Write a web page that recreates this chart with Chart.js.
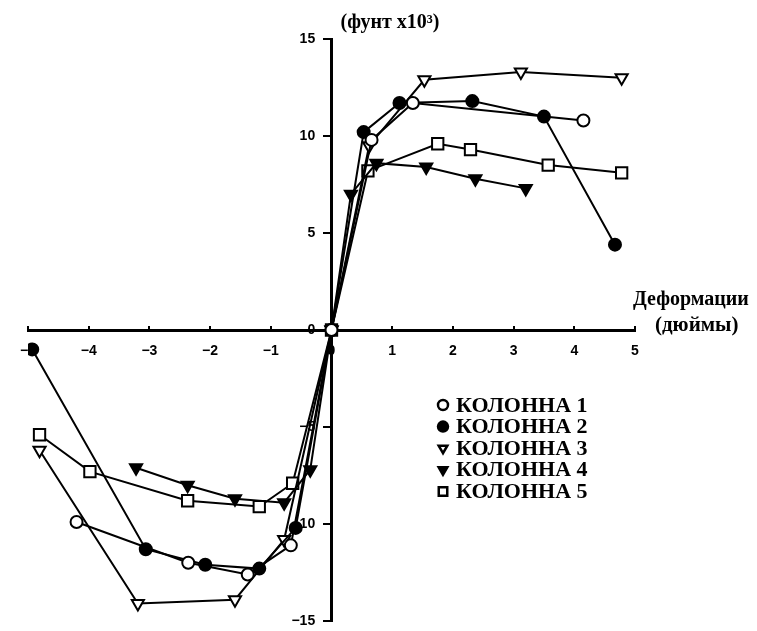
<!DOCTYPE html>
<html>
<head>
<meta charset="utf-8">
<script src="https://cdn.jsdelivr.net/npm/chart.js@4/dist/chart.umd.min.js"></script>
<style>
  html, body { margin: 0; padding: 0; background: #fff; }
  #wrap { width: 757px; height: 631px; }
</style>
</head>
<body>
<div id="wrap"><canvas id="chart" width="757" height="631"></canvas></div>
<script>
// deformation (inches) / load (lb x10^3)
const col1X = [-4.2, -2.36, -1.38, -0.67, 0, 0.66, 1.34, 4.15];
const col1Y = [-9.9, -12.0, -12.6, -11.1, 0, 9.8, 11.7, 10.8];

const col2X = [-4.93, -3.06, -2.08, -1.19, -0.59, 0, 0.53, 1.12, 2.32, 3.5, 4.67];
const col2Y = [-1.0, -11.3, -12.1, -12.3, -10.2, 0, 10.2, 11.7, 11.8, 11.0, 4.4];

const col3X = [-4.81, -3.19, -1.59, -0.78, 0, 0.62, 1.53, 3.12, 4.78];
const col3Y = [-6.2, -14.1, -13.9, -10.8, 0, 9.5, 12.9, 13.3, 13.0];

const col4X = [-3.22, -2.37, -1.59, -0.78, -0.35, 0, 0.32, 0.74, 1.56, 2.37, 3.2];
const col4Y = [-7.1, -8.0, -8.7, -8.9, -7.2, 0, 7.0, 8.6, 8.4, 7.8, 7.3];

const col5X = [-4.81, -3.98, -2.37, -1.19, -0.64, 0, 0.6, 1.75, 2.29, 3.57, 4.78];
const col5Y = [-5.4, -7.3, -8.8, -9.1, -7.9, 0, 8.2, 9.6, 9.3, 8.5, 8.1];

const seriesNames = ['КОЛОННА 1', 'КОЛОННА 2', 'КОЛОННА 3', 'КОЛОННА 4', 'КОЛОННА 5'];
const xTitle = ['Деформации', '(дюймы)'];
const yTitle = '(фунт x10³)';

function pts(xs, ys) {
    return xs.map((x, i) => ({ x: x, y: ys[i] }));
}

function ds(label, data, style, fill, radius, rotation) {
    return {
        label: label,
        data: data,
        showLine: true,
        borderColor: '#000',
        borderWidth: 2,
        backgroundColor: fill,
        pointBackgroundColor: fill,
        pointBorderColor: '#000',
        pointBorderWidth: 2,
        pointStyle: style,
        pointRadius: radius,
        pointRotation: rotation,
        tension: 0
    };
}

const datasets = [
    ds(seriesNames[0], pts(col1X, col1Y), 'circle', '#fff', 6, 0),
    ds(seriesNames[1], pts(col2X, col2Y), 'circle', '#000', 6, 0),
    ds(seriesNames[2], pts(col3X, col3Y), 'triangle', '#fff', 7, 180),
    ds(seriesNames[3], pts(col4X, col4Y), 'triangle', '#000', 7, 180),
    ds(seriesNames[4], pts(col5X, col5Y), 'rect', '#fff', 8, 0)
];

function fmtX(v) {
    return v < 0 ? '\u2212' + Math.abs(v) : String(v);
}

// y labels sit right-aligned on the axis line, so pad them away from it
function fmtY(v) {
    return fmtX(v) + '\u2002\u2002\u2006';
}

const tickFont = { family: 'Liberation Sans', weight: 'bold', size: 14 };

// axes cross at the origin; keep them from eating into the plot area
function noSpace(s) {
    if (s.isHorizontal()) s.height = 0; else s.width = 0;
    s.paddingTop = 0;
    s.paddingBottom = 0;
    s.paddingLeft = 0;
    s.paddingRight = 0;
}

// axis titles and legend drawn by hand, legend sits inside the plot
const extras = {
    id: 'extras',
    afterDraw(chart) {
        const ctx = chart.ctx;
        const xs = chart.scales.x, ys = chart.scales.y;
        ctx.save();
        ctx.fillStyle = '#000';
        ctx.textBaseline = 'middle';
        ctx.textAlign = 'left';
        ctx.font = 'bold 20px "Liberation Serif"';
        ctx.fillText(yTitle, xs.getPixelForValue(0) + 9, ys.getPixelForValue(15) - 16);
        ctx.font = 'bold 20px "Liberation Serif"';
        ctx.fillText(xTitle[0], 633, 300);
        ctx.font = 'bold 21px "Liberation Serif"';
        ctx.fillText(xTitle[1], 655, 326);

        ctx.font = 'bold 22px "Liberation Serif"';
        chart.data.datasets.forEach((d, i) => {
            const y = 405 + i * 21.6;
            ctx.strokeStyle = '#000';
            ctx.lineWidth = 2.5;
            ctx.fillStyle = d.pointBackgroundColor;
            Chart.helpers.drawPoint(ctx, {
                pointStyle: d.pointStyle,
                radius: d.pointStyle === 'rect' ? 6 : 5,
                rotation: d.pointRotation,
                borderWidth: 2.5
            }, 443, y);
            ctx.fillStyle = '#000';
            ctx.fillText(d.label, 456, y + 1);
        });
        ctx.restore();
    }
};

new Chart(document.getElementById('chart'), {
    type: 'scatter',
    data: { datasets: datasets },
    plugins: [extras],
    options: {
        responsive: false,
        animation: false,
        layout: { padding: { left: 28, right: 122, top: 39, bottom: 8 } },
        plugins: {
            legend: { display: false },
            tooltip: { enabled: false }
        },
        scales: {
            x: {
                type: 'linear',
                position: { y: 0 },
                min: -5,
                max: 5,
                afterFit: noSpace,
                ticks: { stepSize: 1, color: '#000', font: tickFont, padding: 19, callback: fmtX, maxRotation: 0 },
                grid: { drawOnChartArea: false, drawTicks: true, tickLength: -6, color: '#000', lineWidth: 2 },
                border: { display: true, color: '#000', width: 3 }
            },
            y: {
                type: 'linear',
                position: { x: 0 },
                min: -15,
                max: 15,
                afterFit: noSpace,
                ticks: { stepSize: 5, color: '#000', font: tickFont, padding: 6, callback: fmtY },
                grid: { drawOnChartArea: false, drawTicks: true, tickLength: 7, color: '#000', lineWidth: 2 },
                border: { display: true, color: '#000', width: 3 }
            }
        }
    }
});
</script>
</body>
</html>
